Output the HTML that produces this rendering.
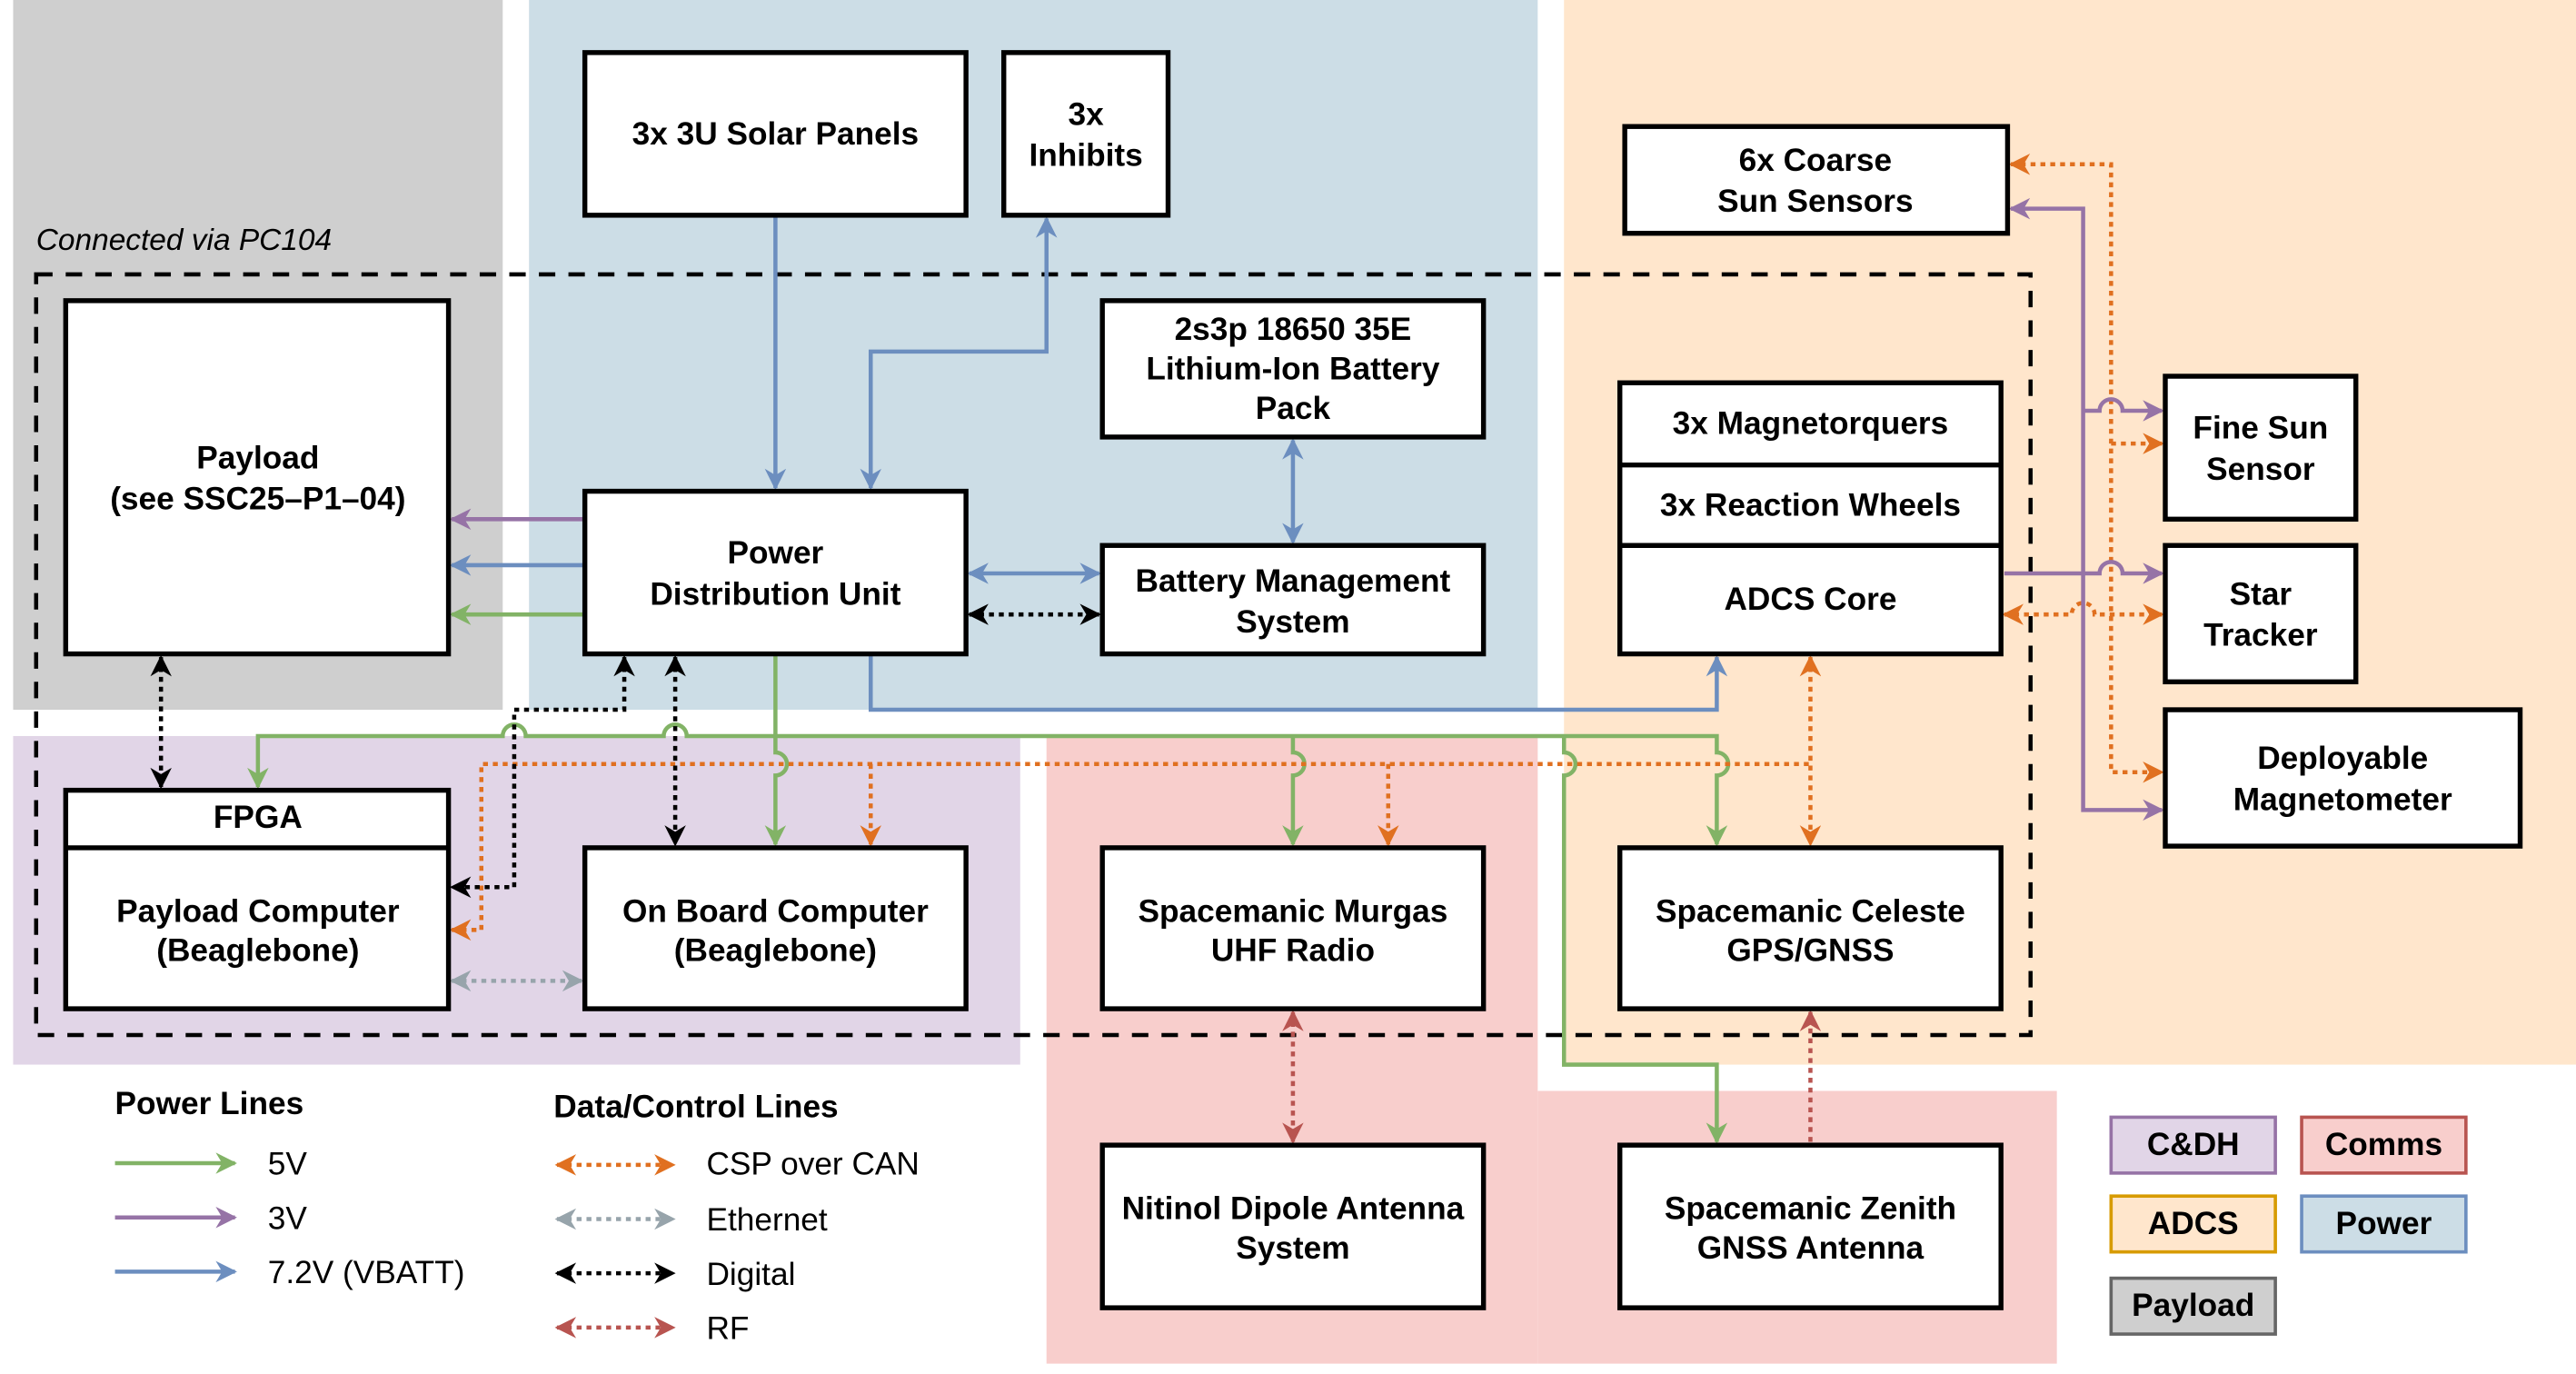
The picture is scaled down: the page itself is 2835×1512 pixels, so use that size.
<!DOCTYPE html>
<html><head><meta charset="utf-8">
<style>
html,body{margin:0;padding:0;background:#fff;}
svg{display:block;}
text{font-family:"Liberation Sans",Arial,sans-serif;font-weight:bold;font-size:19.5px;fill:#000;}
.n{font-weight:normal;}
</style></head><body>
<svg width="2835" height="1512" viewBox="0 0 1568 836.3" preserveAspectRatio="none" xmlns="http://www.w3.org/2000/svg">
<defs>
<marker id="ag" viewBox="0 0 10 10" refX="9" refY="5" markerWidth="14" markerHeight="13" markerUnits="userSpaceOnUse" orient="auto-start-reverse"><path d="M0,0 L10,5 L0,10 L3,5z" fill="#82b366"/></marker>
<marker id="ap" viewBox="0 0 10 10" refX="9" refY="5" markerWidth="14" markerHeight="13" markerUnits="userSpaceOnUse" orient="auto-start-reverse"><path d="M0,0 L10,5 L0,10 L3,5z" fill="#9673a6"/></marker>
<marker id="ab" viewBox="0 0 10 10" refX="9" refY="5" markerWidth="14" markerHeight="13" markerUnits="userSpaceOnUse" orient="auto-start-reverse"><path d="M0,0 L10,5 L0,10 L3,5z" fill="#6c8ebf"/></marker>
<marker id="ao" viewBox="0 0 10 10" refX="9" refY="5" markerWidth="14" markerHeight="13" markerUnits="userSpaceOnUse" orient="auto-start-reverse"><path d="M0,0 L10,5 L0,10 L3,5z" fill="#e07020"/></marker>
<marker id="ak" viewBox="0 0 10 10" refX="9" refY="5" markerWidth="14" markerHeight="13" markerUnits="userSpaceOnUse" orient="auto-start-reverse"><path d="M0,0 L10,5 L0,10 L3,5z" fill="#000"/></marker>
<marker id="ay" viewBox="0 0 10 10" refX="9" refY="5" markerWidth="14" markerHeight="13" markerUnits="userSpaceOnUse" orient="auto-start-reverse"><path d="M0,0 L10,5 L0,10 L3,5z" fill="#97a4ab"/></marker>
<marker id="ar" viewBox="0 0 10 10" refX="9" refY="5" markerWidth="14" markerHeight="13" markerUnits="userSpaceOnUse" orient="auto-start-reverse"><path d="M0,0 L10,5 L0,10 L3,5z" fill="#b85450"/></marker>
</defs>

<rect x="8" y="0" width="298" height="432" fill="#cfcfcf"/>
<rect x="322" y="0" width="614" height="432" fill="#ccdde6"/>
<rect x="952" y="0" width="616" height="648" fill="#ffe6cc"/>
<rect x="8" y="448" width="613" height="200" fill="#e1d5e7"/>
<rect x="637" y="448" width="299" height="382" fill="#f8cecc"/>
<rect x="936" y="664" width="316" height="166" fill="#f8cecc"/>

<text x="22" y="152" class="n" style="font-style:italic;font-size:18.5px">Connected via PC104</text>
<rect x="22" y="167" width="1214" height="463" fill="none" stroke="#000" stroke-width="2.5" stroke-dasharray="10,8"/>

<g fill="none" stroke-width="2.5">
<path d="M472,131 V297" stroke="#6c8ebf" marker-end="url(#ab)"/>
<path d="M530,297 V214 H637 V133" stroke="#6c8ebf" marker-start="url(#ab)" marker-end="url(#ab)"/>
<path d="M356,344 H275" stroke="#6c8ebf" marker-end="url(#ab)"/>
<path d="M590,349 H669" stroke="#6c8ebf" marker-start="url(#ab)" marker-end="url(#ab)"/>
<path d="M787,268 V330" stroke="#6c8ebf" marker-start="url(#ab)" marker-end="url(#ab)"/>
<path d="M530,398 V432 H1045 V400" stroke="#6c8ebf" marker-end="url(#ab)"/>
<path d="M356,316 H275" stroke="#9673a6" marker-end="url(#ap)"/>
<path d="M356,374 H275" stroke="#82b366" marker-end="url(#ag)"/>
<path d="M472,398 V458 A7,7 0 0 1 472,472 V514" stroke="#82b366" marker-end="url(#ag)"/>
<path d="M157,479 V448 H306 A7,7 0 0 1 320,448 H404 A7,7 0 0 1 418,448 H1045 V458 A7,7 0 0 1 1045,472 V514" stroke="#82b366" marker-start="url(#ag)" marker-end="url(#ag)"/>
<path d="M787,448 V458 A7,7 0 0 1 787,472 V514" stroke="#82b366" marker-end="url(#ag)"/>
<path d="M952,448 V458 A7,7 0 0 1 952,472 V648 H1045 V695" stroke="#82b366" marker-end="url(#ag)"/>
<path d="M275,566 H293 V465 H1102" stroke="#e07020" stroke-dasharray="3,3" marker-start="url(#ao)"/>
<path d="M530,465 V514" stroke="#e07020" stroke-dasharray="3,3" marker-end="url(#ao)"/>
<path d="M845,465 V514" stroke="#e07020" stroke-dasharray="3,3" marker-end="url(#ao)"/>
<path d="M1102,400 V514" stroke="#e07020" stroke-dasharray="3,3" marker-start="url(#ao)" marker-end="url(#ao)"/>
<path d="M98,400 V479" stroke="#000" stroke-dasharray="3,3" marker-start="url(#ak)" marker-end="url(#ak)"/>
<path d="M411,400 V514" stroke="#000" stroke-dasharray="3,3" marker-start="url(#ak)" marker-end="url(#ak)"/>
<path d="M380,400 V432 H313 V540 H275" stroke="#000" stroke-dasharray="3,3" marker-start="url(#ak)" marker-end="url(#ak)"/>
<path d="M590,374 H669" stroke="#000" stroke-dasharray="3,3" marker-start="url(#ak)" marker-end="url(#ak)"/>
<path d="M275,597 H354" stroke="#97a4ab" stroke-dasharray="3,3" marker-start="url(#ay)" marker-end="url(#ay)"/>
<path d="M787,616 V695" stroke="#b85450" stroke-dasharray="3,3" marker-start="url(#ar)" marker-end="url(#ar)"/>
<path d="M1102,695 V616" stroke="#b85450" stroke-dasharray="3,3" marker-end="url(#ar)"/>
<path d="M1224,100 H1285 V470 H1316" stroke="#e07020" stroke-dasharray="3,3" marker-start="url(#ao)" marker-end="url(#ao)"/>
<path d="M1285,270 H1316" stroke="#e07020" stroke-dasharray="3,3" marker-end="url(#ao)"/>
<path d="M1220,374 H1261 A7,7 0 0 1 1275,374 H1316" stroke="#e07020" stroke-dasharray="3,3" marker-start="url(#ao)" marker-end="url(#ao)"/>
<path d="M1224,127 H1268 V493 H1316" stroke="#9673a6" marker-start="url(#ap)" marker-end="url(#ap)"/>
<path d="M1268,250 H1278 A7,7 0 0 1 1292,250 H1316" stroke="#9673a6" marker-end="url(#ap)"/>
<path d="M1220,349 H1278 A7,7 0 0 1 1292,349 H1316" stroke="#9673a6" marker-end="url(#ap)"/>
</g>

<g fill="#fff" stroke="#000" stroke-width="3">
<rect x="356" y="32" width="232" height="99"/>
<rect x="611" y="32" width="100" height="99"/>
<rect x="40" y="183" width="233" height="215"/>
<rect x="356" y="299" width="232" height="99"/>
<rect x="671" y="183" width="232" height="83"/>
<rect x="671" y="332" width="232" height="66"/>
<rect x="989" y="77" width="233" height="65"/>
<rect x="986" y="233" width="232" height="165"/>
<rect x="1318" y="229" width="116" height="87"/>
<rect x="1318" y="332" width="116" height="83"/>
<rect x="1318" y="432" width="216" height="83"/>
<rect x="40" y="481" width="233" height="133"/>
<rect x="356" y="516" width="232" height="98"/>
<rect x="671" y="516" width="232" height="98"/>
<rect x="986" y="516" width="232" height="98"/>
<rect x="671" y="697" width="232" height="99"/>
<rect x="986" y="697" width="232" height="99"/>
</g>
<path d="M986,283 H1218 M986,332 H1218 M40,516 H273" stroke="#000" stroke-width="3"/>

<g text-anchor="middle">
<text x="472" y="88">3x 3U Solar Panels</text>
<text x="661" y="76">3x</text><text x="661" y="101">Inhibits</text>
<text x="157" y="285">Payload</text><text x="157" y="310">(see SSC25–P1–04)</text>
<text x="472" y="343">Power</text><text x="472" y="368">Distribution Unit</text>
<text x="787" y="207">2s3p 18650 35E</text><text x="787" y="231">Lithium-Ion Battery</text><text x="787" y="255">Pack</text>
<text x="787" y="360">Battery Management</text><text x="787" y="385">System</text>
<text x="1105" y="104">6x Coarse</text><text x="1105" y="129">Sun Sensors</text>
<text x="1102" y="264">3x Magnetorquers</text>
<text x="1102" y="314">3x Reaction Wheels</text>
<text x="1102" y="371">ADCS Core</text>
<text x="1376" y="267">Fine Sun</text><text x="1376" y="292">Sensor</text>
<text x="1376" y="368">Star</text><text x="1376" y="393">Tracker</text>
<text x="1426" y="468">Deployable</text><text x="1426" y="493">Magnetometer</text>
<text x="157" y="504">FPGA</text>
<text x="157" y="561">Payload Computer</text><text x="157" y="585">(Beaglebone)</text>
<text x="472" y="561">On Board Computer</text><text x="472" y="585">(Beaglebone)</text>
<text x="787" y="561">Spacemanic Murgas</text><text x="787" y="585">UHF Radio</text>
<text x="1102" y="561">Spacemanic Celeste</text><text x="1102" y="585">GPS/GNSS</text>
<text x="787" y="742">Nitinol Dipole Antenna</text><text x="787" y="766">System</text>
<text x="1102" y="742">Spacemanic Zenith</text><text x="1102" y="766">GNSS Antenna</text>
</g>

<text x="70" y="678">Power Lines</text>
<text x="337" y="680">Data/Control Lines</text>
<g fill="none" stroke-width="2.5">
<path d="M70,708 H143" stroke="#82b366" marker-end="url(#ag)"/>
<path d="M70,741 H143" stroke="#9673a6" marker-end="url(#ap)"/>
<path d="M70,774 H143" stroke="#6c8ebf" marker-end="url(#ab)"/>
<path d="M339,709 H410" stroke="#e07020" stroke-dasharray="3,3" marker-start="url(#ao)" marker-end="url(#ao)"/>
<path d="M339,742 H410" stroke="#97a4ab" stroke-dasharray="3,3" marker-start="url(#ay)" marker-end="url(#ay)"/>
<path d="M339,775 H410" stroke="#000" stroke-dasharray="3,3" marker-start="url(#ak)" marker-end="url(#ak)"/>
<path d="M339,808 H410" stroke="#b85450" stroke-dasharray="3,3" marker-start="url(#ar)" marker-end="url(#ar)"/>
</g>
<g>
<text x="163" y="715" class="n">5V</text>
<text x="163" y="748" class="n">3V</text>
<text x="163" y="781" class="n">7.2V (VBATT)</text>
<text x="430" y="715" class="n">CSP over CAN</text>
<text x="430" y="749" class="n">Ethernet</text>
<text x="430" y="782" class="n">Digital</text>
<text x="430" y="815" class="n">RF</text>
</g>
<g stroke-width="2">
<rect x="1285" y="680" width="100" height="34" fill="#e1d5e7" stroke="#9673a6"/>
<rect x="1401" y="680" width="100" height="34" fill="#f8cecc" stroke="#b85450"/>
<rect x="1285" y="728" width="100" height="34" fill="#ffe6cc" stroke="#d79b00"/>
<rect x="1401" y="728" width="100" height="34" fill="#ccdde6" stroke="#6c8ebf"/>
<rect x="1285" y="778" width="100" height="34" fill="#cfcfcf" stroke="#666"/>
</g>
<g text-anchor="middle">
<text x="1335" y="703">C&amp;DH</text>
<text x="1451" y="703">Comms</text>
<text x="1335" y="751">ADCS</text>
<text x="1451" y="751">Power</text>
<text x="1335" y="801">Payload</text>
</g>
</svg>
</body></html>
